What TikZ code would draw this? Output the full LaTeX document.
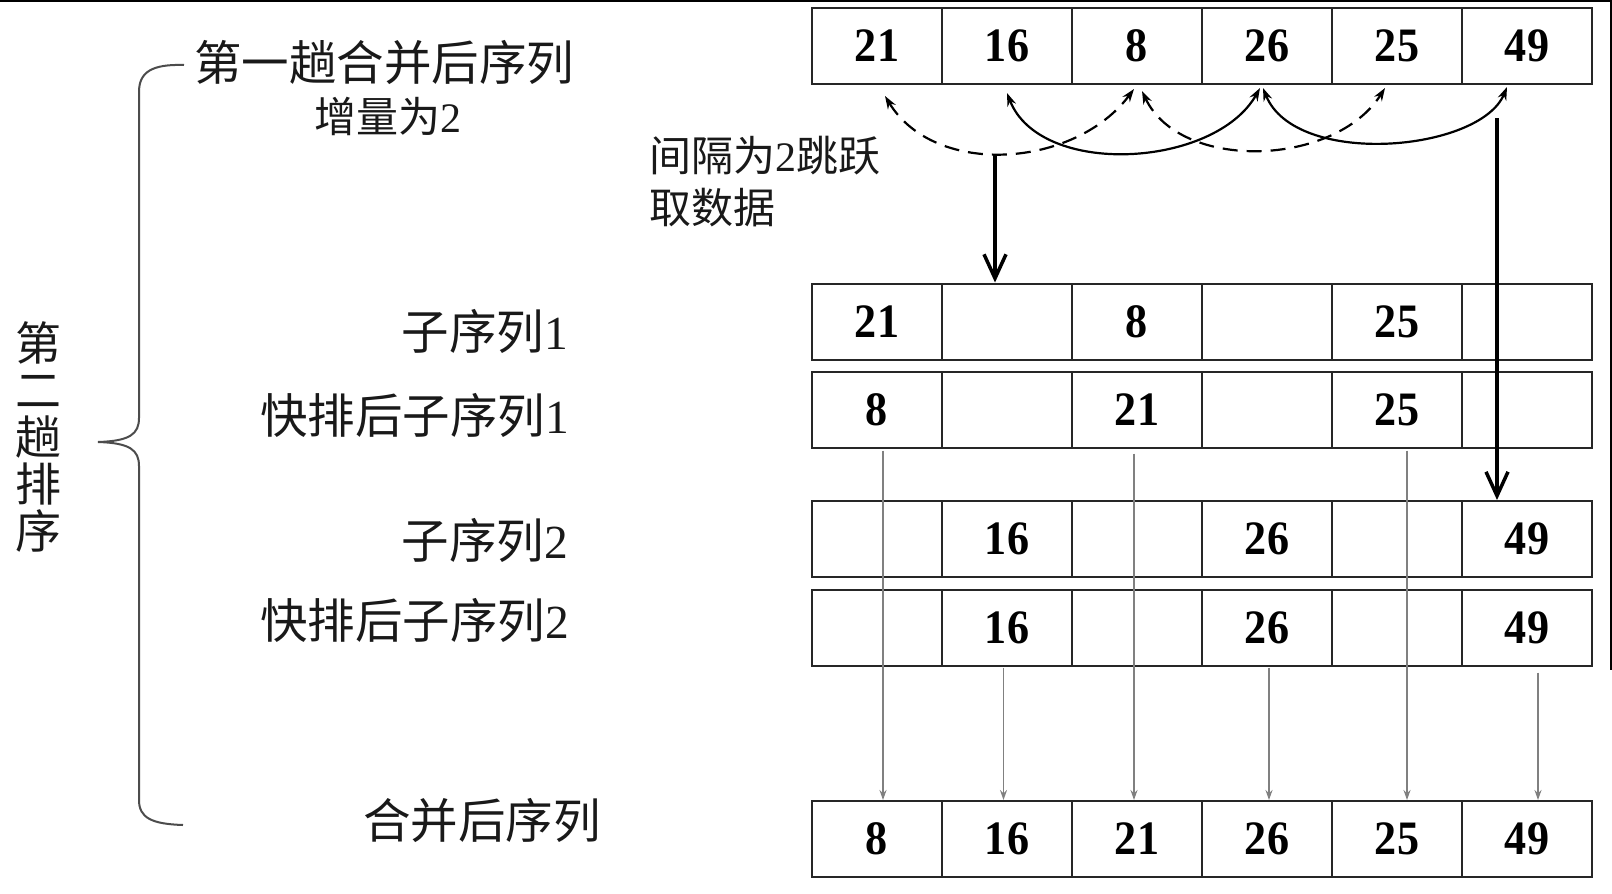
\documentclass[tikz,border=0pt]{standalone}
\usepackage{fontspec}
\setmainfont{Liberation Serif}
\newfontfamily\cjk{Noto Sans CJK SC}
\newfontfamily\numfont[FakeStretch=0.92]{Liberation Serif Bold}
\usetikzlibrary{arrows.meta}
\begin{document}
\begin{tikzpicture}[x=1pt,y=-1pt,
  cell/.style={draw=black!85, line width=2pt, minimum width=130pt, minimum height=76pt, inner sep=0pt, font=\fontsize{48}{48}\selectfont\numfont},
  lbl/.style={inner sep=0pt, text=black!90, font=\fontsize{47.5}{52}\selectfont\cjk},
  small/.style={lbl, font=\fontsize{42}{52}\selectfont\cjk},
  grayarr/.style={draw=black!50, line width=1.6pt, -{Stealth[length=10pt,width=7pt]}},
  curvearr/.style={line width=2.2pt, {Stealth[length=13pt,width=9pt]}-{Stealth[length=13pt,width=9pt]}},
  dasharr/.style={curvearr, dash pattern=on 15pt off 9pt},
  bigarr/.style={line width=3.5pt, -{Straight Barb[length=24pt,width=22pt,line width=3.5pt]}},
  brace/.style={draw=black!70, line width=2pt}
]
\useasboundingbox (0,0) rectangle (1612,894);
\fill[white] (0,0) rectangle (1612,894);
\draw[line width=2pt] (0,1) -- (1612,1);
\draw[line width=2pt] (1611,0) -- (1611,670);

% rows of cells
\foreach \i/\v in {1/21,2/16,3/8,4/26,5/25,6/49}
  \node[cell] (r1c\i) at ({877+130*(\i-1)},46) {\v};
\foreach \i/\v in {1/21,2/{},3/8,4/{},5/25,6/{}}
  \node[cell] (r2c\i) at ({877+130*(\i-1)},321.5) {\v};
\foreach \i/\v in {1/8,2/{},3/21,4/{},5/25,6/{}}
  \node[cell] (r3c\i) at ({877+130*(\i-1)},409.5) {\v};
\foreach \i/\v in {1/{},2/16,3/{},4/26,5/{},6/49}
  \node[cell] (r4c\i) at ({877+130*(\i-1)},539) {\v};
\foreach \i/\v in {1/{},2/16,3/{},4/26,5/{},6/49}
  \node[cell] (r5c\i) at ({877+130*(\i-1)},627.5) {\v};
\foreach \i/\v in {1/8,2/16,3/21,4/26,5/25,6/49}
  \node[cell] (r6c\i) at ({877+130*(\i-1)},839) {\v};

% labels
\node[lbl, anchor=west] (t1) at (194,62) {第一趟合并后序列};
\node[small] (t2) at (388,116) {增量为{\rmfamily 2}};
\node[small, anchor=west, align=left] (t3) at (649,182) {间隔为{\rmfamily 2}跳跃\\取数据};
\node[lbl, anchor=east] (s1) at (568,331) {子序列{\rmfamily 1}};
\node[lbl, anchor=east] (q1) at (569,415) {快排后子序列{\rmfamily 1}};
\node[lbl, anchor=east] (s2) at (568,540) {子序列{\rmfamily 2}};
\node[lbl, anchor=east] (q2) at (569,620) {快排后子序列{\rmfamily 2}};
\node[lbl, anchor=east] (m) at (601,820) {合并后序列};
\node[lbl, align=center, font=\fontsize{46}{47}\selectfont\cjk] (v) at (39,437) {第\\二\\趟\\排\\序};

% brace
\draw[brace] (184,65) .. controls (152,64) and (139,72) .. (139,92) -- (139,418)
  .. controls (139,434) and (130,441) .. (98,442)
  .. controls (130,443) and (139,450) .. (139,466) -- (139,800)
  .. controls (139,818) and (152,824) .. (183,825);

% curved jump arrows
\draw[dasharr] ([xshift=8pt,yshift=-11pt]r1c1.south) .. controls (935,178) and (1075,168) .. ([xshift=-3pt,yshift=-4pt]r1c3.south);
\draw[dasharr] ([xshift=5pt,yshift=-6pt]r1c3.south) .. controls (1180,172) and (1335,167) .. ([xshift=-12pt,yshift=-3pt]r1c5.south);
\draw[curvearr] ([yshift=-8pt]r1c2.south) .. controls (1040,178) and (1215,168) .. ([xshift=-7pt,yshift=-3pt]r1c4.south);
\draw[curvearr] ([xshift=-4pt,yshift=-3pt]r1c4.south) .. controls (1295,168) and (1480,152) .. ([xshift=-20pt,yshift=-2pt]r1c6.south);

% thick arrows
\coordinate (dbot) at (995,154);
\draw[bigarr] (dbot) -- (dbot |- r2c2.north);
\coordinate (rtop) at (1497,118);
\draw[bigarr] (rtop) -- (rtop |- r4c6.north);

% gray merge arrows
\draw[grayarr] ([xshift=6pt,yshift=-2pt]r3c1.south) -- ([xshift=6pt]r6c1.north);
\draw[grayarr] ([xshift=-3.5pt,yshift=-1pt]r5c2.south) -- ([xshift=-3.5pt]r6c2.north);
\draw[grayarr] ([xshift=-3pt,yshift=-5pt]r3c3.south) -- ([xshift=-3pt]r6c3.north);
\draw[grayarr] ([xshift=2pt,yshift=-1pt]r5c4.south) -- ([xshift=2pt]r6c4.north);
\draw[grayarr] ([xshift=10pt,yshift=-2pt]r3c5.south) -- ([xshift=10pt]r6c5.north);
\draw[grayarr] ([xshift=11pt,yshift=-6pt]r5c6.south) -- ([xshift=11pt]r6c6.north);
\end{tikzpicture}
\end{document}
